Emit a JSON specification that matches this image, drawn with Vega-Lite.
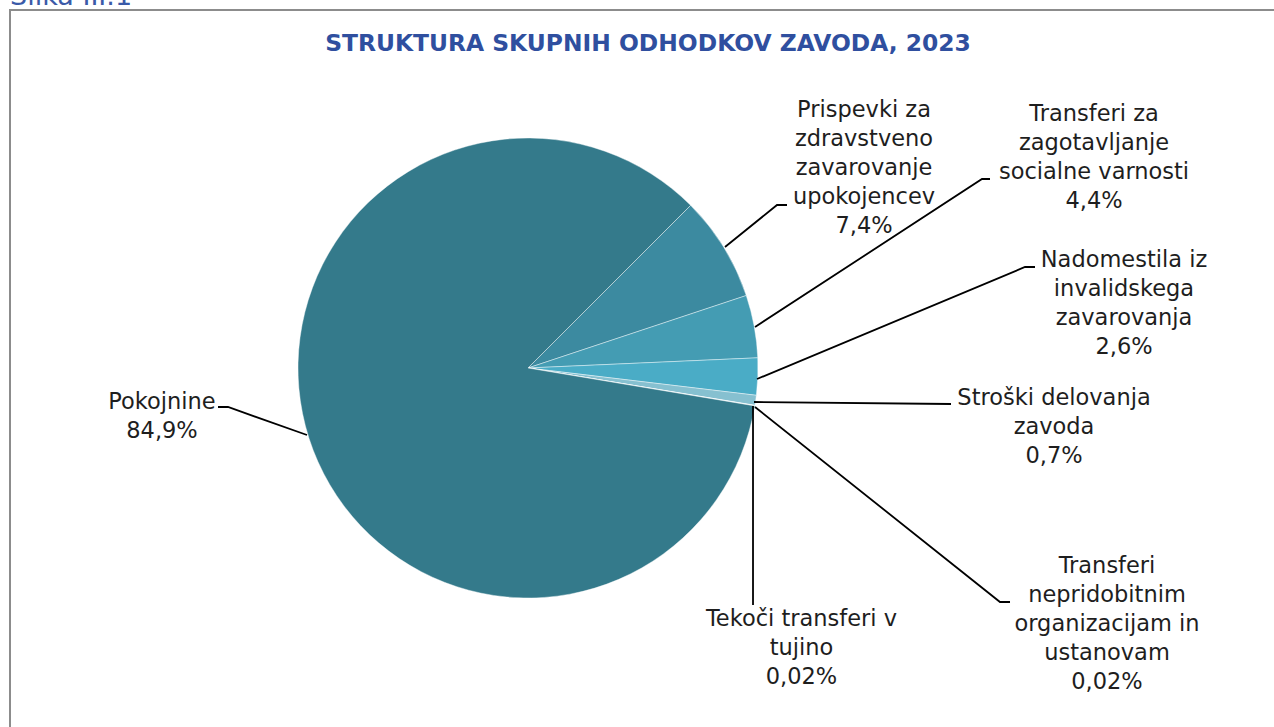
{
  "$schema": "https://vega.github.io/schema/vega-lite/v6.json",
  "autosize": {"type": "none"},
  "padding": {"left": 10, "top": 10, "right": 0, "bottom": 0},
  "width": 1270,
  "height": 740,
  "background": "white",
  "config": {"view": {"stroke": "#8c8c8c", "strokeWidth": 2}},
  "datasets": {
    "slices": [
      {"category": "Prispevki za zdravstveno zavarovanje upokojencev", "share": 7.4, "idx": 1},
      {"category": "Transferi za zagotavljanje socialne varnosti", "share": 4.4, "idx": 2},
      {"category": "Nadomestila iz invalidskega zavarovanja", "share": 2.6, "idx": 3},
      {"category": "Stroški delovanja zavoda", "share": 0.7, "idx": 4},
      {"category": "Tekoči transferi v tujino", "share": 0.02, "idx": 5},
      {"category": "Transferi nepridobitnim organizacijam in ustanovam", "share": 0.02, "idx": 6},
      {"category": "Pokojnine", "share": 84.9, "idx": 7}
    ],
    "callouts": [
      {"label": "Prispevki za\nzdravstveno\nzavarovanje\nupokojencev\n7,4%", "u": 146.09, "v": 112.17},
      {"label": "Transferi za\nzagotavljanje\nsocialne varnosti\n4,4%", "u": 246.09, "v": 110.43},
      {"label": "Nadomestila iz\ninvalidskega\nzavarovanja\n2,6%", "u": 259.13, "v": 47.17},
      {"label": "Stroški delovanja\nzavoda\n0,7%", "u": 228.7, "v": -12.83},
      {"label": "Tekoči transferi v\ntujino\n0,02%", "u": 118.91, "v": -109.13},
      {"label": "Transferi\nnepridobitnim\norganizacijam in\nustanovam\n0,02%", "u": 251.74, "v": -86.09},
      {"label": "Pokojnine\n84,9%", "u": -159.13, "v": -14.78}
    ],
    "leaders": [
      {"id": "a", "seq": 1, "u": 85.65, "v": 52.61},
      {"id": "a", "seq": 2, "u": 108.26, "v": 70.87},
      {"id": "a", "seq": 3, "u": 112.61, "v": 70.87},
      {"id": "b", "seq": 1, "u": 98.7, "v": 17.83},
      {"id": "b", "seq": 2, "u": 197.39, "v": 82.17},
      {"id": "b", "seq": 3, "u": 200.87, "v": 82.17},
      {"id": "c", "seq": 1, "u": 99.57, "v": -4.78},
      {"id": "c", "seq": 2, "u": 216.09, "v": 43.91},
      {"id": "c", "seq": 3, "u": 220.43, "v": 43.91},
      {"id": "d", "seq": 1, "u": 98.26, "v": -14.78},
      {"id": "d", "seq": 2, "u": 183.91, "v": -15.65},
      {"id": "e", "seq": 1, "u": 97.83, "v": -16.52},
      {"id": "e", "seq": 2, "u": 97.83, "v": -103.04},
      {"id": "f", "seq": 1, "u": 98.7, "v": -16.96},
      {"id": "f", "seq": 2, "u": 205.22, "v": -101.74},
      {"id": "f", "seq": 3, "u": 209.57, "v": -101.74},
      {"id": "g", "seq": 1, "u": -96.09, "v": -29.13},
      {"id": "g", "seq": 2, "u": -130.43, "v": -16.96},
      {"id": "g", "seq": 3, "u": -134.78, "v": -16.96}
    ],
    "headings": [
      {"text": "STRUKTURA SKUPNIH ODHODKOV ZAVODA, 2023", "kind": "title", "u": 52.17, "v": 140.87},
      {"text": "Slika III.1", "kind": "caption", "u": -225.22, "v": 157.83}
    ]
  },
  "layer": [
    {
      "data": {"name": "slices"},
      "mark": {"type": "arc", "outerRadius": 230, "stroke": "#ffffff", "strokeWidth": 0.6, "strokeOpacity": 0.7},
      "encoding": {
        "x": {"datum": 0, "type": "quantitative", "scale": {"domain": [-225.217, 326.957], "nice": false, "zero": false}, "axis": null},
        "y": {"datum": 0, "type": "quantitative", "scale": {"domain": [-166.087, 155.652], "nice": false, "zero": false}, "axis": null},
        "theta": {"field": "share", "type": "quantitative", "stack": true, "scale": {"range": [0.785398, 7.068583]}},
        "order": {"field": "idx", "type": "quantitative"},
        "color": {
          "field": "category",
          "type": "nominal",
          "legend": null,
          "scale": {
            "domain": [
              "Prispevki za zdravstveno zavarovanje upokojencev",
              "Transferi za zagotavljanje socialne varnosti",
              "Nadomestila iz invalidskega zavarovanja",
              "Stroški delovanja zavoda",
              "Tekoči transferi v tujino",
              "Transferi nepridobitnim organizacijam in ustanovam",
              "Pokojnine"
            ],
            "range": ["#3c8aa0", "#449cb3", "#4aacc6", "#86c0d0", "#a6d3df", "#c4e2ea", "#347a8b"]
          }
        }
      }
    },
    {
      "data": {"name": "leaders"},
      "mark": {"type": "line", "color": "#000000", "strokeWidth": 1.8, "interpolate": "linear"},
      "encoding": {
        "x": {"field": "u", "type": "quantitative", "scale": {"domain": [-225.217, 326.957], "nice": false, "zero": false}, "axis": null},
        "y": {"field": "v", "type": "quantitative", "scale": {"domain": [-166.087, 155.652], "nice": false, "zero": false}, "axis": null},
        "detail": {"field": "id", "type": "nominal"},
        "order": {"field": "seq", "type": "quantitative"}
      }
    },
    {
      "data": {"name": "callouts"},
      "mark": {"type": "text", "align": "center", "baseline": "middle", "lineBreak": "\n", "lineHeight": 29, "font": "DejaVu Sans", "fontSize": 22.5, "color": "#1e1e1e"},
      "encoding": {
        "x": {"field": "u", "type": "quantitative", "scale": {"domain": [-225.217, 326.957], "nice": false, "zero": false}, "axis": null},
        "y": {"field": "v", "type": "quantitative", "scale": {"domain": [-166.087, 155.652], "nice": false, "zero": false}, "axis": null},
        "text": {"field": "label", "type": "nominal"}
      }
    },
    {
      "data": {"name": "headings"},
      "transform": [{"filter": "datum.kind === 'title'"}],
      "mark": {"type": "text", "align": "center", "baseline": "middle", "font": "DejaVu Sans", "fontSize": 23.4, "fontWeight": "bold", "color": "#2f4f9f"},
      "encoding": {
        "x": {"field": "u", "type": "quantitative", "scale": {"domain": [-225.217, 326.957], "nice": false, "zero": false}, "axis": null},
        "y": {"field": "v", "type": "quantitative", "scale": {"domain": [-166.087, 155.652], "nice": false, "zero": false}, "axis": null},
        "text": {"field": "text", "type": "nominal"}
      }
    },
    {
      "data": {"name": "headings"},
      "transform": [{"filter": "datum.kind === 'caption'"}],
      "mark": {"type": "text", "align": "left", "baseline": "alphabetic", "font": "DejaVu Sans", "fontSize": 27, "color": "#3a5aa8"},
      "encoding": {
        "x": {"field": "u", "type": "quantitative", "scale": {"domain": [-225.217, 326.957], "nice": false, "zero": false}, "axis": null},
        "y": {"field": "v", "type": "quantitative", "scale": {"domain": [-166.087, 155.652], "nice": false, "zero": false}, "axis": null},
        "text": {"field": "text", "type": "nominal"}
      }
    }
  ]
}
